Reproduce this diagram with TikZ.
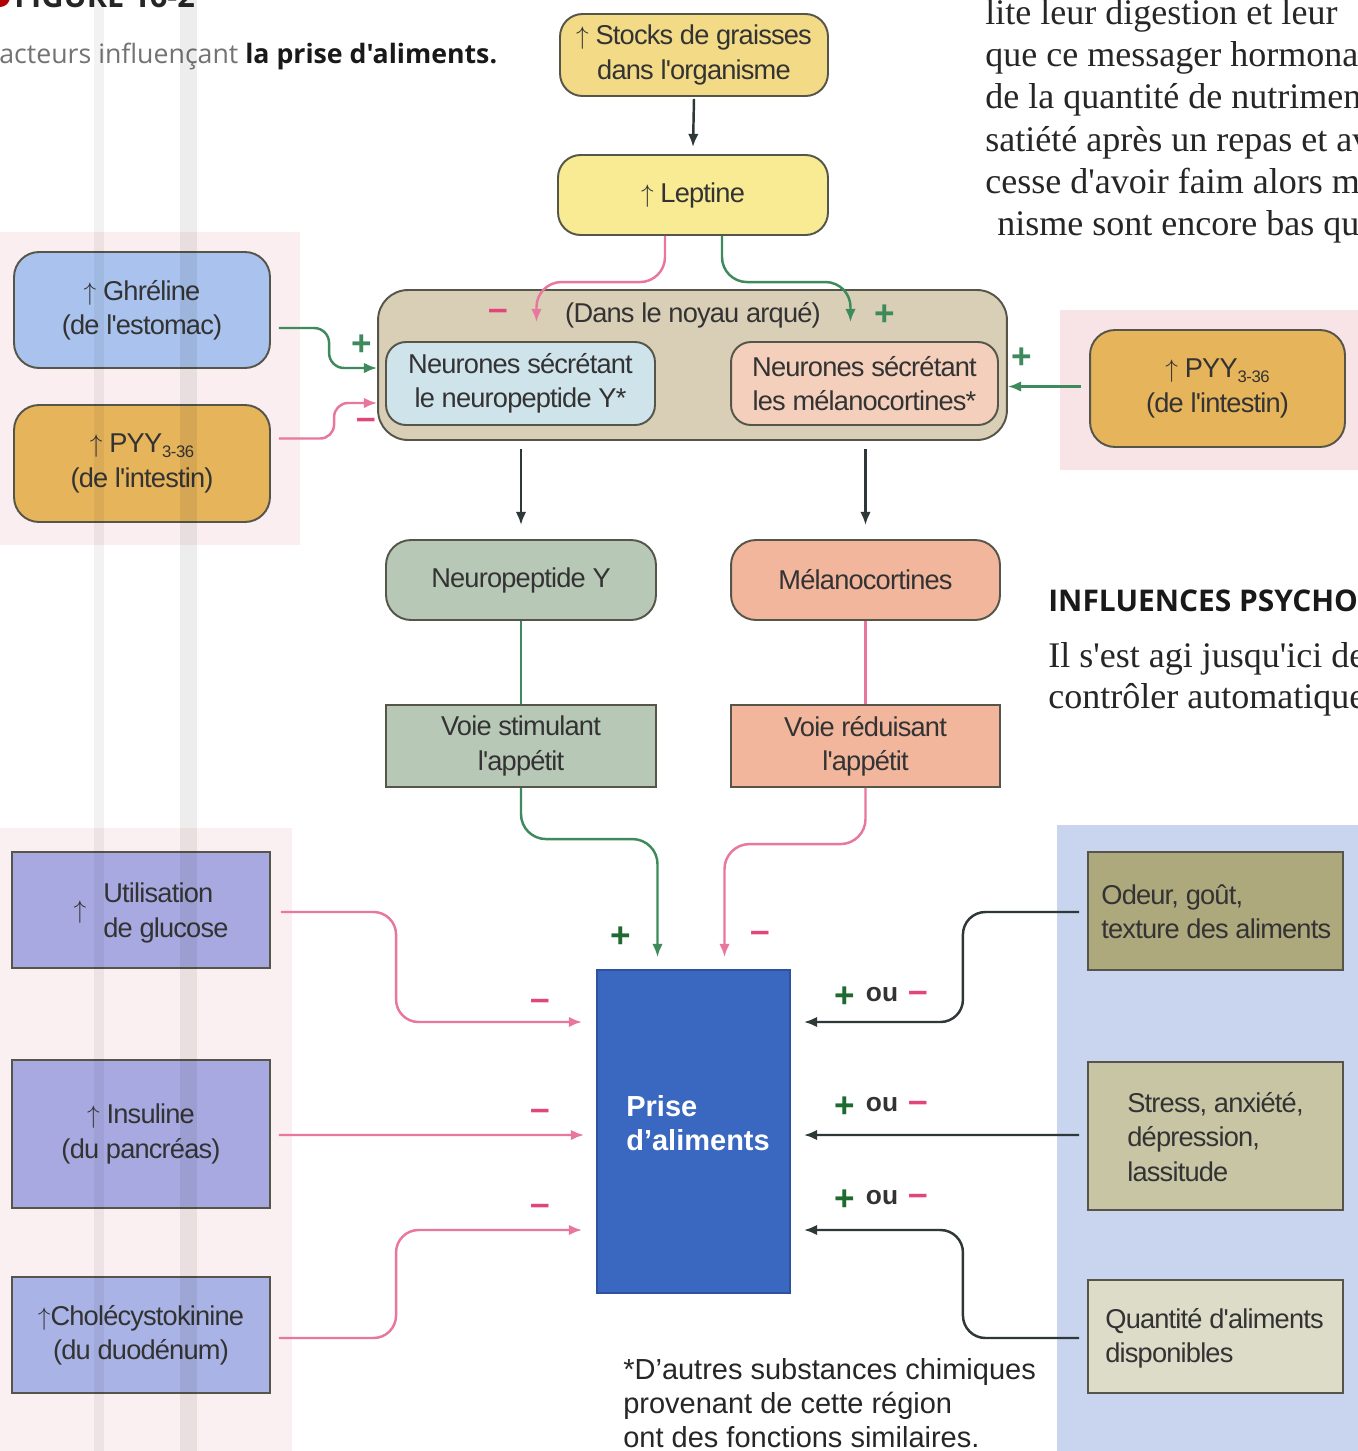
\documentclass[tikz,border=0pt]{standalone}
\usepackage{fontspec}
\setmainfont{Liberation Sans}
\newfontfamily\boxfont{Liberation Sans}[LetterSpace=-3]
\newfontfamily\serifbody{Liberation Serif}
\newfontfamily\hdrfont{Open Sans}
\usetikzlibrary{arrows.meta,calc}
\definecolor{txtc}{HTML}{333333}
\definecolor{boxline}{HTML}{55554A}
\definecolor{stockc}{HTML}{F2DA86}
\definecolor{leptc}{HTML}{F8EB93}
\definecolor{arcc}{HTML}{D9CEB6}
\definecolor{npync}{HTML}{CFE3EA}
\definecolor{mcnc}{HTML}{F3CFBC}
\definecolor{ghrc}{HTML}{A9C3EE}
\definecolor{pyyc}{HTML}{E6B45B}
\definecolor{npyc}{HTML}{B8C8B7}
\definecolor{mcc}{HTML}{F2B69C}
\definecolor{prisec}{HTML}{3A67BF}
\definecolor{prisedark}{HTML}{2C52A0}
\definecolor{lavc}{HTML}{A8A9E1}
\definecolor{lavb}{HTML}{A9B3E5}
\definecolor{odeurc}{HTML}{AEA87D}
\definecolor{stressc}{HTML}{C8C5A5}
\definecolor{quantc}{HTML}{DCDCC9}
\definecolor{panelc}{HTML}{C9D4EF}
\definecolor{pinkbg}{HTML}{F8E4E6}
\definecolor{pinkline}{HTML}{E9779D}
\definecolor{greenline}{HTML}{3F8A5C}
\definecolor{darkline}{HTML}{2E3838}
\definecolor{plusg}{HTML}{1F6A2E}
\definecolor{minusp}{HTML}{E2447C}
\tikzset{
 box/.style={draw=boxline, line width=1.1pt, text=txtc, align=center, inner sep=0pt, font=\boxfont\fontsize{15.5}{19.5}\selectfont},
 rbox/.style={box, rounded corners=0.45cm},
 txt/.style={text=txtc, inner sep=0pt, font=\boxfont\fontsize{15.5}{19.5}\selectfont},
 conn/.style={line width=1.4pt, rounded corners=0.35cm},
 pinkc/.style={conn, draw=pinkline},
 greenc/.style={conn, draw=greenline},
 darkc/.style={conn, draw=darkline},
 blk/.style={line width=1.4pt, draw=darkline},
 arrowend/.style={-{Latex[length=7.5pt,width=6pt]}},
 plusmark/.style={inner sep=0pt, font=\fontsize{20}{20}\selectfont\bfseries},
 minusmark/.style={inner sep=0pt, text=minusp, font=\fontsize{20}{20}\selectfont\bfseries},
 oumark/.style={inner sep=0pt, text=txtc, font=\fontsize{15}{15}\selectfont\bfseries},
 serifline/.style={inner sep=0pt, anchor=base west, text=black!85, font=\serifbody\fontsize{20.5}{24}\selectfont},
}
\newcommand{\sub}[1]{\raisebox{-0.35ex}{\fontsize{9.5}{10}\selectfont #1}}
\begin{document}
\begin{tikzpicture}[x=0.02cm,y=-0.02cm]
\useasboundingbox (0,0) rectangle (1358,1451);
\clip (0,0) rectangle (1358,1451);
\fill[white] (0,0) rectangle (1358,1451);
% backgrounds
\fill[pinkbg, opacity=0.6] (0,232) rectangle (300,545);
\fill[pinkbg, opacity=0.55] (0,828) rectangle (292,1451);
\fill[pinkbg] (1060,310) rectangle (1358,470);
\fill[panelc] (1057,825) rectangle (1358,1451);

% page texts
\fill[red!70!black] (0,-3) circle (10);
\node[inner sep=0pt, anchor=base west, font=\hdrfont\bfseries\fontsize{17.5}{20}\selectfont, text=black!85] (figlabel) at (14,7) {FIGURE 16-2};
\node[inner sep=0pt, anchor=base west, font=\hdrfont\fontsize{15.2}{17}\selectfont, text=black!55] (caption) at (-1,63) {acteurs influençant \textcolor{black!90}{\bfseries la prise d'aliments.}};
\node[serifline] (s1) at (985,24) {lite leur digestion et leur};
\node[serifline] (s2) at (985,66) {que ce messager hormonal};
\node[serifline] (s3) at (985,108) {de la quantité de nutrimen};
\node[serifline] (s4) at (985,151) {satiété après un repas et av};
\node[serifline] (s5) at (985,193) {cesse d'avoir faim alors m};
\node[serifline] (s6) at (997,235) {nisme sont encore bas qu};
\node[inner sep=0pt, anchor=base west, font=\hdrfont\bfseries\fontsize{17}{20}\selectfont, text=black!90] (infl) at (1048,611) {INFLUENCES PSYCHO};
\node[serifline] (s7) at (1048,667) {Il s'est agi jusqu'ici de};
\node[serifline] (s8) at (1048,708) {contrôler automatique};

% boxes
\node[rbox, fill=stockc, minimum width=5.36cm, minimum height=1.64cm] (stocks) at (694,55) {$\uparrow$ Stocks de graisses\\dans l'organisme};
\node[rbox, fill=leptc, minimum width=5.4cm, minimum height=1.6cm] (leptine) at (693,195) {$\uparrow$ Leptine};
\node[box, rounded corners=0.6cm, fill=arcc, minimum width=12.58cm, minimum height=3cm] (arc) at (692.5,365) {};
\node[txt] (arctext) at (693,315) {(Dans le noyau arqué)};
\node[rbox, rounded corners=0.4cm, fill=npync, minimum width=5.38cm, minimum height=1.66cm] (npyn) at (520.5,383.5) {Neurones sécrétant\\le neuropeptide Y*};
\node[rbox, rounded corners=0.4cm, fill=mcnc, minimum width=5.34cm, minimum height=1.66cm] (mcn) at (864.5,383.5) {Neurones sécrétant\\les mélanocortines*};

\node[rbox, rounded corners=0.5cm, fill=ghrc, minimum width=5.12cm, minimum height=2.32cm] (ghr) at (142,310) {$\uparrow$ Ghréline\\(de l'estomac)};
\node[rbox, rounded corners=0.5cm, fill=pyyc, minimum width=5.12cm, minimum height=2.34cm] (pyyL) at (142,463.5) {$\uparrow$ PYY\sub{3-36}\\(de l'intestin)};
\node[rbox, rounded corners=0.5cm, fill=pyyc, minimum width=5.1cm, minimum height=2.34cm] (pyyR) at (1217.5,388.5) {$\uparrow$ PYY\sub{3-36}\\(de l'intestin)};

\node[rbox, rounded corners=0.5cm, fill=npyc, minimum width=5.4cm, minimum height=1.6cm] (npy) at (521,580) {Neuropeptide Y};
\node[rbox, rounded corners=0.5cm, fill=mcc, minimum width=5.38cm, minimum height=1.6cm] (mc) at (865.5,580) {Mélanocortines};
\node[box, fill=npyc, minimum width=5.4cm, minimum height=1.64cm] (vs) at (521,746) {Voie stimulant\\l'appétit};
\node[box, fill=mcc, minimum width=5.38cm, minimum height=1.64cm] (vr) at (865.5,746) {Voie réduisant\\l'appétit};

\node[box, draw=prisedark, fill=prisec, minimum width=3.86cm, minimum height=6.46cm] (prise) at (693.5,1131.5) {};
\node[inner sep=0pt, anchor=west, align=left, text=white, font=\bfseries\fontsize{16.5}{19.5}\selectfont] (prisetxt) at (626,1123) {Prise\\d'aliments};

\node[box, fill=lavc, minimum width=5.16cm, minimum height=2.32cm] (util) at (141,910) {};
\node[txt] (utilarr) at (80,912) {$\uparrow$};
\node[txt, anchor=west, align=left] (utiltxt) at (103,913) {Utilisation\\de glucose};
\node[box, fill=lavc, minimum width=5.16cm, minimum height=2.96cm] (ins) at (141,1134) {$\uparrow$ Insuline\\(du pancréas)};
\node[box, fill=lavb, minimum width=5.16cm, minimum height=2.32cm] (cck) at (141,1335) {$\uparrow$Cholécystokinine\\(du duodénum)};

\node[box, fill=odeurc, minimum width=5.1cm, minimum height=2.36cm] (odeur) at (1215.5,911) {};
\node[txt, anchor=west, align=left] (odeurtxt) at (1101,912) {Odeur, goût,\\texture des aliments};
\node[box, fill=stressc, minimum width=5.1cm, minimum height=2.96cm] (stress) at (1215.5,1136) {};
\node[txt, anchor=west, align=left] (stresstxt) at (1127,1137) {Stress, anxiété,\\dépression,\\lassitude};
\node[box, fill=quantc, minimum width=5.1cm, minimum height=2.26cm] (quant) at (1215.5,1336.5) {};
\node[txt, anchor=west, align=left] (quanttxt) at (1105,1338) {Quantité d'aliments\\disponibles};

\node[inner sep=0pt, anchor=north west, align=left, text=black!85, font=\fontsize{16.5}{19.3}\selectfont] (foot) at (623,1358) {*D'autres substances chimiques\\provenant de cette région\\ont des fonctions similaires.};

% connectors
\draw[blk,arrowend] ($(stocks.south)+(0,2)$) -- ($(leptine.north)+(0,-7)$);
\draw[pinkc,arrowend,rounded corners=0.5cm] ($(leptine.south)+(-28,0)$) |- ($(arc.north)+(-156,-7)$) -- ($(arc.north)+(-156,33)$);
\draw[greenc,arrowend,rounded corners=0.5cm] ($(leptine.south)+(29,0)$) |- ($(arc.north)+(158,-7)$) -- ($(arc.north)+(158,33)$);
\draw[greenc,arrowend,rounded corners=0.3cm] ($(ghr.east)+(8,18)$) -| ($(arc.west)+(-48,3)$) -- ($(arc.west)+(0,3)$);
\draw[pinkc,arrowend,rounded corners=0.28cm] ($(pyyL.east)+(8,-25)$) -| ($(arc.west)+(-43,38)$) -- ($(arc.west)+(0,38)$);
\draw[greenc,arrowend] ($(pyyR.west)+(-8,-2)$) -- ($(arc.east)+(0,21.5)$);
\draw[blk,arrowend] ($(arc.south -| npy.north)+(0,8)$) -- ($(npy.north)+(0,-14)$);
\draw[blk,arrowend] ($(arc.south -| mc.north)+(0,8)$) -- ($(mc.north)+(0,-14)$);
\draw[greenc] (npy.south) -- (vs.north);
\draw[pinkc] (mc.south) -- (vr.north);
\draw[greenc,arrowend,rounded corners=0.5cm] (vs.south) |- ($(prise.north)+(-36,-130)$) -- ($(prise.north)+(-36,-12)$);
\draw[pinkc,arrowend,rounded corners=0.5cm] (vr.south) |- ($(prise.north)+(31,-125)$) -- ($(prise.north)+(31,-12)$);
\draw[pinkc,arrowend,rounded corners=0.45cm] ($(util.east)+(10,2)$) -| ($(prise.west)+(-200,-109.5)$) -- ($(prise.west)+(-14,-109.5)$);
\draw[pinkc,arrowend] ($(ins.east)+(8,1)$) -- ($(prise.west)+(-12,3.5)$);
\draw[pinkc,arrowend,rounded corners=0.45cm] ($(cck.east)+(8,3)$) -| ($(prise.west)+(-200,98.5)$) -- ($(prise.west)+(-14,98.5)$);
\draw[darkc,arrowend,rounded corners=0.45cm] ($(odeur.west)+(-8,1)$) -| ($(prise.east)+(172,-109.5)$) -- ($(prise.east)+(13,-109.5)$);
\draw[darkc,arrowend] ($(stress.west)+(-8,-1)$) -- ($(prise.east)+(13,3.5)$);
\draw[darkc,arrowend,rounded corners=0.45cm] ($(quant.west)+(-8,1.5)$) -| ($(prise.east)+(172,98.5)$) -- ($(prise.east)+(13,98.5)$);

% signs
\node[plusmark, text=greenline] (p1) at (362,345) {+};
\node[minusmark] (m1) at (366,424) {–};
\node[plusmark, text=greenline] (p2) at (1022,358) {+};
\node[minusmark] (m2) at (498,315) {–};
\node[plusmark, text=greenline] (p3) at (885,315) {+};
\node[plusmark, text=plusg] (p4) at (621,937) {+};
\node[minusmark] (m3) at (760,937) {–};
\node[minusmark] (m4) at (540,1005) {–};
\node[minusmark] (m5) at (540,1115) {–};
\node[minusmark] (m6) at (540,1210) {–};
\node[plusmark, text=plusg] (q1p) at (845,997) {+};
\node[oumark] (q1o) at (882,995) {ou};
\node[minusmark] (q1m) at (918,997) {–};
\node[plusmark, text=plusg] (q2p) at (845,1107) {+};
\node[oumark] (q2o) at (882,1105) {ou};
\node[minusmark] (q2m) at (918,1107) {–};
\node[plusmark, text=plusg] (q3p) at (845,1200) {+};
\node[oumark] (q3o) at (882,1198) {ou};
\node[minusmark] (q3m) at (918,1200) {–};

% page stripes
\fill[black, opacity=0.05] (94,0) rectangle (104,1451);
\fill[black, opacity=0.07] (180,0) rectangle (197,1451);
\end{tikzpicture}
\end{document}
